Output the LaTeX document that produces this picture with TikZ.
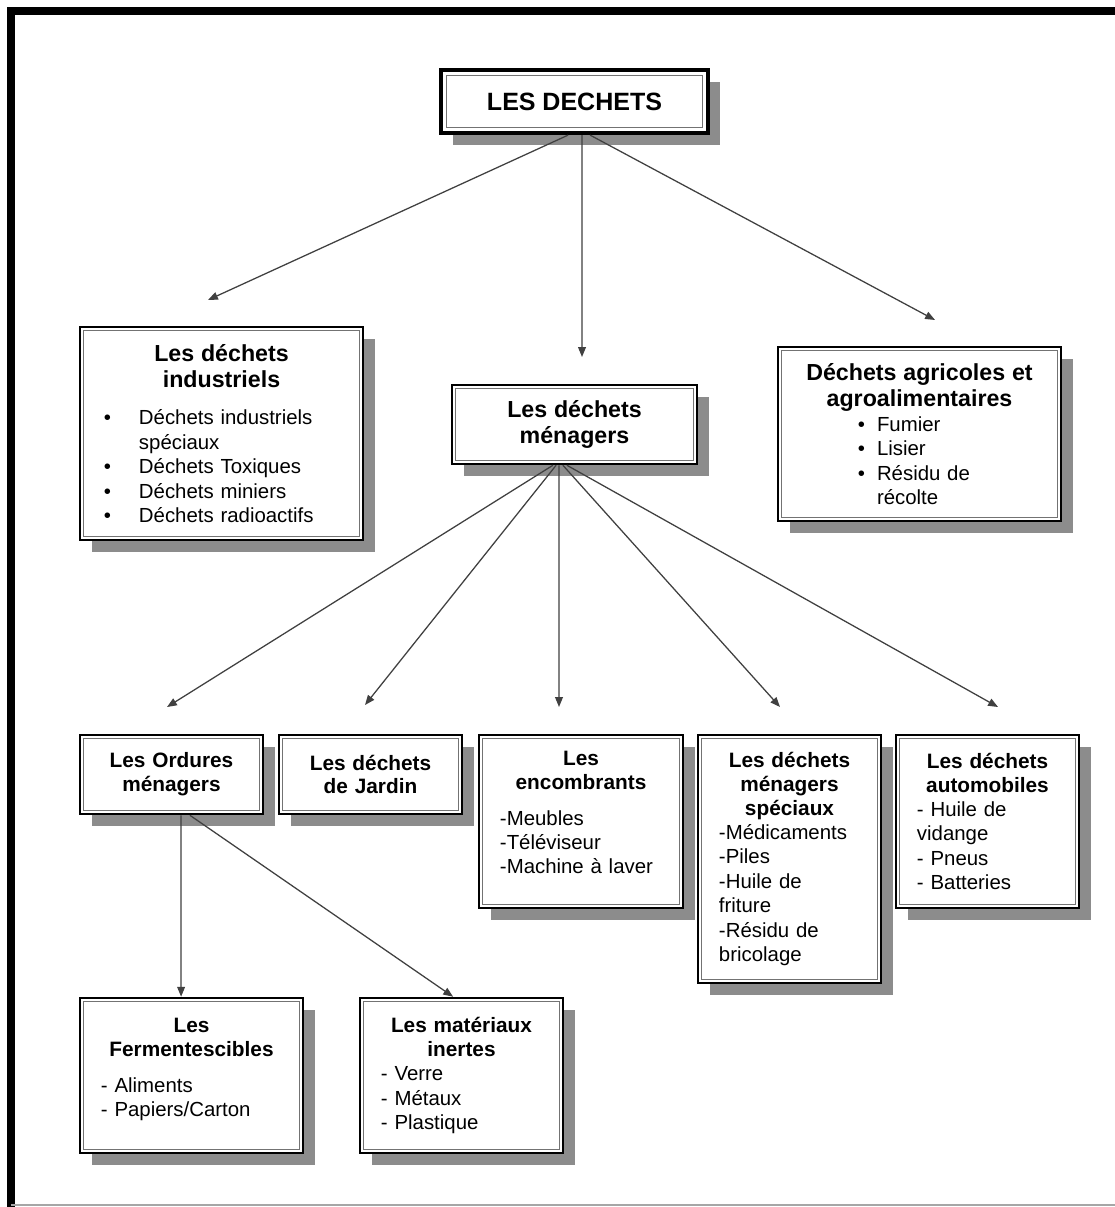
\documentclass[tikz,border=0pt]{standalone}
\usepackage{fontspec}
\setmainfont{Liberation Sans}
\usetikzlibrary{arrows.meta,shadows}

\newcommand\grostitre[1]{{\centering\fontsize{16.5}{19}\selectfont\bfseries #1\par}}
\newcommand\titrebas[1]{{\centering\fontsize{14.8}{17}\selectfont\bfseries #1\par}}
\newcommand\puce[2]{\leavevmode\hspace*{#1}\makebox[#2][l]{\textbullet}}

\begin{document}
\begin{tikzpicture}[x=0.025cm, y=-0.025cm,
        retrait/.initial=2.5pt,
        boite/.style={draw, line width=1.8pt, fill=white, inner xsep=0.525cm, inner ysep=0pt,
            font=\fontsize{14.5}{17.4}\selectfont, align=left,
            drop shadow={shadow xshift=0.3cm, shadow yshift=-0.3cm, fill=black!45, opacity=1},
            path picture={\draw[black!55, line width=0.6pt]
                ([shift={(\pgfkeysvalueof{/tikz/retrait},-\pgfkeysvalueof{/tikz/retrait})}]path picture bounding box.north west) rectangle
                ([shift={(-\pgfkeysvalueof{/tikz/retrait},\pgfkeysvalueof{/tikz/retrait})}]path picture bounding box.south east);}},
        taille/.style 2 args={minimum width=#1, minimum height=#2, text width=#1-1.05cm},
        fleche/.style={draw=black!75, line width=0.9pt, -{Triangle[length=7pt,width=5.5pt]}}]

    \useasboundingbox (0,0) rectangle (1115,1207);
    \fill[white] (0,0) rectangle (1115,1207);

    % cadre
    \draw[line width=0.2cm] (11,1207) -- (11,11) -- (1115,11);
    \draw[black!35, line width=0.06cm] (11,1205) -- (1115,1205);

    % niveau 1
    \node[boite, taille={6.675cm}{1.575cm}, align=center, line width=3pt, retrait=3.9pt] (tete) at (574.5,101.5)
        {\fontsize{17.8}{21}\selectfont\bfseries LES DECHETS};

    % niveau 2
    \node[boite, taille={7.075cm}{5.325cm}] (indus) at (221.5,433.5)
        {\grostitre{Les déchets\\industriels}\vspace{9pt}
        \puce{0.075cm}{0.875cm}Déchets industriels\\
        \hspace*{0.95cm}spéciaux\\
        \puce{0.075cm}{0.875cm}Déchets Toxiques\\
        \puce{0.075cm}{0.875cm}Déchets miniers\\
        \puce{0.075cm}{0.875cm}Déchets radioactifs};
    \node[boite, taille={6.125cm}{1.975cm}, align=center] (menag) at (574.5,424.5)
        {\grostitre{Les déchets\\ménagers}};
    \node[boite, taille={7.075cm}{4.35cm}] (agri) at (919.5,434)
        {\grostitre{Déchets agricoles et\\agroalimentaires}
        \puce{1.475cm}{0.475cm}Fumier\\
        \puce{1.475cm}{0.475cm}Lisier\\
        \puce{1.475cm}{0.475cm}Résidu de\\
        \hspace*{1.95cm}récolte};

    % niveau 3
    \node[boite, taille={4.575cm}{1.975cm}] (ordures) at (171.5,774.5)
        {\titrebas{Les Ordures\\ménagers}};
    \node[boite, taille={4.575cm}{1.975cm}] (jardin) at (370.5,774.5)
        {\titrebas{Les déchets\\de Jardin}};
    \node[boite, taille={5.1cm}{4.325cm}] (encomb) at (581,821.5)
        {\titrebas{Les\\encombrants}\vspace{8pt}
        -Meubles\\-Téléviseur\\-Machine à laver\rule[-0.45cm]{0pt}{0.45cm}};
    \node[boite, taille={4.575cm}{6.2cm}] (speciaux) at (789.5,859)
        {\titrebas{Les déchets\\ménagers\\spéciaux}
        -Médicaments\\-Piles\\-Huile de\\friture\\-Résidu de\\bricolage};
    \node[boite, taille={4.575cm}{4.325cm}] (auto) at (987.5,821.5)
        {\titrebas{Les déchets\\automobiles}
        - Huile de\\vidange\\- Pneus\\- Batteries};

    % niveau 4
    \node[boite, taille={5.575cm}{3.875cm}] (ferment) at (191.5,1075.5)
        {\titrebas{Les\\Fermentescibles}\vspace{8pt}
        - Aliments\\- Papiers/Carton\rule[-0.4cm]{0pt}{0.4cm}};
    \node[boite, taille={5.075cm}{3.875cm}] (inertes) at (461.5,1075.5)
        {\titrebas{Les matériaux\\inertes}
        - Verre\\- Métaux\\- Plastique};

    % fleches
    \coordinate (b-indus) at (208,300);
    \coordinate (b-menag) at (582,357);
    \coordinate (b-agri) at (935,320);
    \draw[fleche] ([xshift=-0.16cm]tete.south) -- (b-indus);
    \draw[fleche] ([xshift=0.19cm]tete.south) -- (b-menag);
    \draw[fleche] ([xshift=0.39cm]tete.south) -- (b-agri);

    \coordinate (b-ordures) at (167,707);
    \coordinate (b-jardin) at (365,705);
    \coordinate (b-encomb) at (559,707);
    \coordinate (b-speciaux) at (780,707);
    \coordinate (b-auto) at (998,707);
    \foreach \dx/\fin in {-0.54/b-ordures, -0.46/b-jardin, -0.39/b-encomb, -0.29/b-speciaux, -0.19/b-auto}
        \draw[fleche] ([xshift=\dx cm]menag.south) -- (\fin);

    \draw[fleche] ([xshift=0.24cm]ordures.south) -- ([xshift=-0.26cm]ferment.north);
    \draw[fleche] ([xshift=0.46cm]ordures.south) -- ([xshift=-0.21cm]inertes.north);
\end{tikzpicture}
\end{document}
